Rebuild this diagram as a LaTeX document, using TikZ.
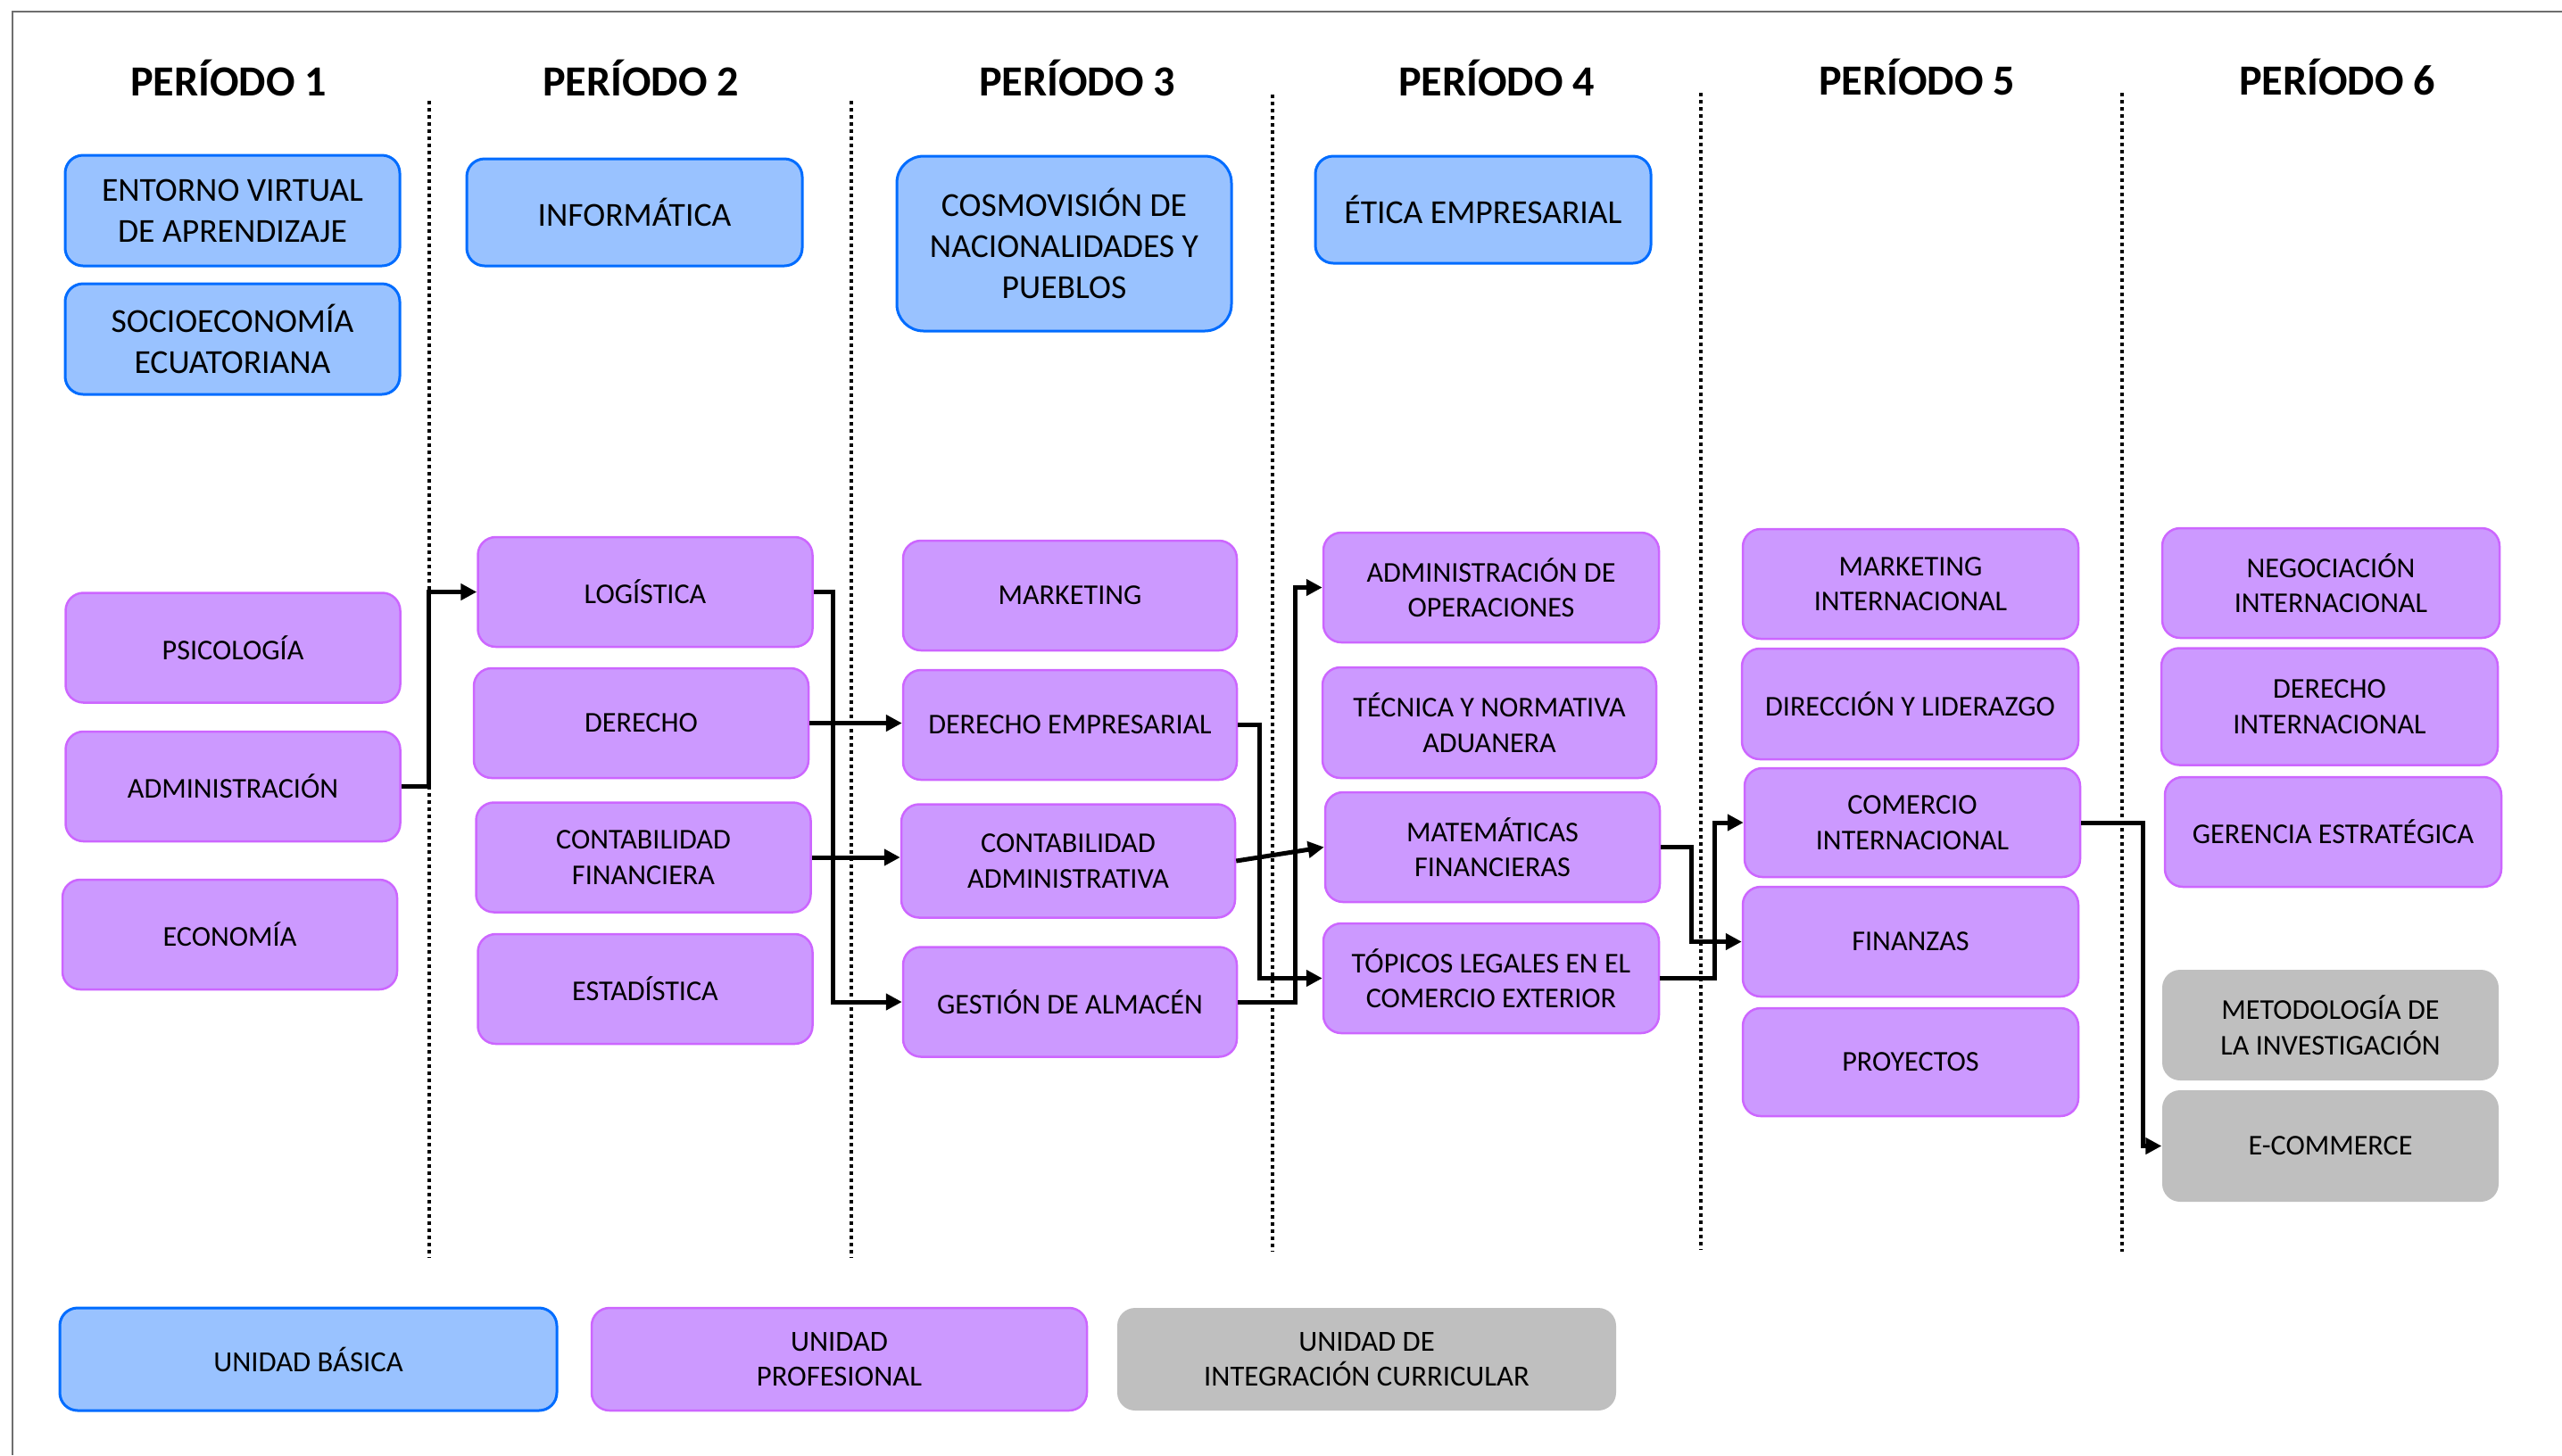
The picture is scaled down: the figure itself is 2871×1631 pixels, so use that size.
\documentclass[tikz,border=0pt]{standalone}
\usepackage{fontspec}
\setmainfont{Carlito}
\usetikzlibrary{arrows.meta}
\definecolor{bfill}{RGB}{153,194,255}
\definecolor{bdraw}{RGB}{0,108,255}
\definecolor{pfill}{RGB}{204,153,255}
\definecolor{pdraw}{RGB}{204,102,255}
\definecolor{gfill}{RGB}{191,191,191}
\definecolor{framec}{RGB}{110,110,110}
\tikzset{
  base/.style={rounded corners=2mm, align=center, inner sep=0pt, text=black},
  bluebox/.style={base, fill=bfill, draw=bdraw, line width=0.3mm, font=\fontsize{10.7}{13.1}\selectfont},
  purplebox/.style={base, fill=pfill, draw=pdraw, line width=0.25mm, font=\fontsize{9.15}{11.2}\selectfont, minimum width=37.5mm, minimum height=12.3mm},
  graybox/.style={base, fill=gfill, font=\fontsize{9.15}{11.2}\selectfont, minimum width=37.7mm, minimum height=12.4mm},
  legbox/.style={minimum width=55.7mm, minimum height=11.5mm},
  title/.style={font=\fontsize{13.7}{16}\selectfont\bfseries, inner sep=0pt},
  sep/.style={line width=0.35mm, dash pattern=on 0.35mm off 0.45mm},
  arr/.style={line width=0.5mm, -{Triangle[length=1.8mm,width=1.8mm]}},
  framel/.style={draw=framec, line width=0.2mm}
}
\begin{document}
\begin{tikzpicture}[x=0.1mm, y=-0.1mm]
\useasboundingbox (0,0) rectangle (2871,1631);
% frame
\coordinate (fr1) at (2871,13);
\coordinate (fr2) at (14,13);
\coordinate (fr3) at (14,1631);
\draw[framel] (fr1) -- (fr2) -- (fr3);
% titles
\node[title] (t1) at (256,87) {PERÍODO 1};
\node[title] (t2) at (718,87) {PERÍODO 2};
\node[title] (t3) at (1207,87) {PERÍODO 3};
\node[title] (t4) at (1677,87) {PERÍODO 4};
\node[title] (t5) at (2148,86) {PERÍODO 5};
\node[title] (t6) at (2619,86) {PERÍODO 6};
% separators
\coordinate (s1a) at (481,113); \coordinate (s1b) at (481,1410);
\coordinate (s2a) at (954,113); \coordinate (s2b) at (954,1410);
\coordinate (s3a) at (1426,106); \coordinate (s3b) at (1426,1403);
\coordinate (s4a) at (1906,104); \coordinate (s4b) at (1906,1401);
\coordinate (s5a) at (2378,104); \coordinate (s5b) at (2378,1403);
\draw[sep] (s1a) -- (s1b);
\draw[sep] (s2a) -- (s2b);
\draw[sep] (s3a) -- (s3b);
\draw[sep] (s4a) -- (s4b);
\draw[sep] (s5a) -- (s5b);
% blue boxes
\node[bluebox, minimum width=37.5mm, minimum height=12.4mm] (evea) at (260.5,236) {ENTORNO VIRTUAL\\DE APRENDIZAJE};
\node[bluebox, minimum width=37.5mm, minimum height=12.4mm] (socio) at (260.5,380) {SOCIOECONOMÍA\\ECUATORIANA};
\node[bluebox, minimum width=37.6mm, minimum height=12.0mm] (info) at (711,238) {INFORMÁTICA};
\node[bluebox, minimum width=37.5mm, minimum height=19.6mm, rounded corners=3mm] (cosmo) at (1192.5,273) {COSMOVISIÓN DE\\NACIONALIDADES Y\\PUEBLOS};
\node[bluebox, minimum width=37.6mm, minimum height=12.0mm] (etica) at (1662,235) {ÉTICA EMPRESARIAL};
% period 1
\node[purplebox] (psico) at (261,726) {PSICOLOGÍA};
\node[purplebox] (admin) at (261,881.5) {ADMINISTRACIÓN};
\node[purplebox] (econ) at (257.5,1047.5) {ECONOMÍA};
% period 2
\node[purplebox] (logi) at (723,663.5) {LOGÍSTICA};
\node[purplebox] (der) at (718.5,810.5) {DERECHO};
\node[purplebox] (cfin) at (721,961) {CONTABILIDAD\\FINANCIERA};
\node[purplebox] (esta) at (723,1108.5) {ESTADÍSTICA};
% period 3
\node[purplebox, minimum width=37.4mm] (mkt) at (1199,667.5) {MARKETING};
\node[purplebox, minimum width=37.4mm] (dere) at (1199,812.5) {DERECHO EMPRESARIAL};
\node[purplebox, minimum width=37.4mm, minimum height=12.7mm] (cadm) at (1197,965) {CONTABILIDAD\\ADMINISTRATIVA};
\node[purplebox, minimum width=37.4mm] (gest) at (1199,1123) {GESTIÓN DE ALMACÉN};
% period 4
\node[purplebox, minimum width=37.6mm] (adop) at (1671,658.5) {ADMINISTRACIÓN DE\\OPERACIONES};
\node[purplebox, minimum width=37.4mm, minimum height=12.4mm] (tecn) at (1669,810) {TÉCNICA Y NORMATIVA\\ADUANERA};
\node[purplebox] (mate) at (1672.5,949.5) {MATEMÁTICAS\\FINANCIERAS};
\node[purplebox, minimum width=37.6mm] (topi) at (1671,1096.5) {TÓPICOS LEGALES EN EL\\COMERCIO EXTERIOR};
% period 5
\node[purplebox, minimum width=37.6mm] (mkti) at (2141,654.5) {MARKETING\\INTERNACIONAL};
\node[purplebox, minimum width=37.7mm, minimum height=12.4mm] (dire) at (2140.5,789) {DIRECCIÓN Y LIDERAZGO};
\node[purplebox, minimum width=37.6mm, minimum height=12.2mm] (come) at (2143,922) {COMERCIO\\INTERNACIONAL};
\node[purplebox, minimum width=37.6mm] (fina) at (2141,1055.5) {FINANZAS};
\node[purplebox, minimum width=37.6mm, minimum height=12.1mm] (proy) at (2141,1190.5) {PROYECTOS};
% period 6
\node[purplebox, minimum width=37.8mm] (nego) at (2612,653.5) {NEGOCIACIÓN\\INTERNACIONAL};
\node[purplebox, minimum width=37.7mm, minimum height=13.1mm] (deri) at (2610.5,792) {DERECHO\\INTERNACIONAL};
\node[purplebox, minimum width=37.7mm] (gere) at (2614.5,932.5) {GERENCIA ESTRATÉGICA};
\node[graybox] (meto) at (2611.5,1149) {METODOLOGÍA DE\\LA INVESTIGACIÓN};
\node[graybox, minimum height=12.5mm] (ecom) at (2611.5,1284.5) {E-COMMERCE};
% legend
\node[bluebox, legbox, font=\fontsize{9.3}{11.3}\selectfont] (lb) at (345.5,1523.5) {UNIDAD BÁSICA};
\node[purplebox, legbox, minimum width=55.5mm, font=\fontsize{9.3}{11.3}\selectfont] (lp) at (940.5,1523.5) {UNIDAD\\PROFESIONAL};
\node[graybox, legbox, minimum width=55.9mm, font=\fontsize{9.3}{11.3}\selectfont] (lg) at (1531.5,1523.5) {UNIDAD DE\\INTEGRACIÓN CURRICULAR};
% connectors
\draw[arr] (admin.east) -- ++(31,0) |- (logi.west);
\draw[arr] (logi.east) -- ++(22,0) |- (gest.west);
\draw[arr] (der.east) -- (der.east -| dere.west);
\draw[arr] (cfin.east) -- (cfin.east -| cadm.west);
\draw[arr] (dere.east) -- ++(24,0) |- (topi.west);
\draw[arr] (cadm.east) -- (mate.west);
\draw[arr] (gest.east) -- ++(64,0) |- (adop.west);
\draw[arr] (mate.east) -- ++(34,0) |- (fina.west);
\draw[arr] (topi.east) -- ++(61,0) |- (come.west);
\draw[arr] (come.east) -- ++(69,0) |- (ecom.west);
\end{tikzpicture}
\end{document}
